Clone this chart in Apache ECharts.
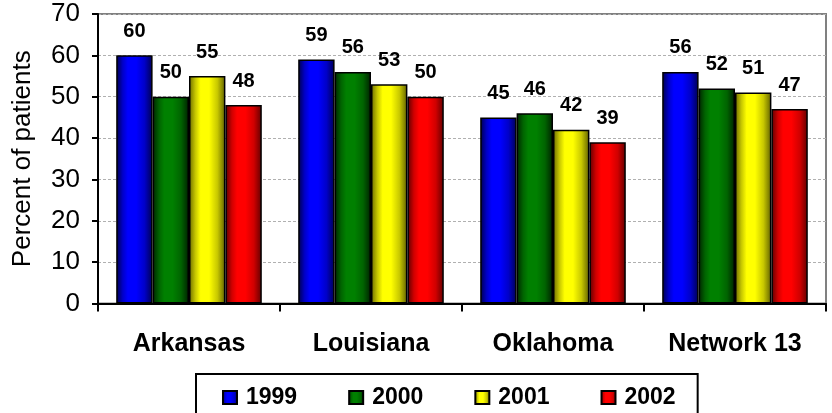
<!DOCTYPE html>
<html>
<head>
<meta charset="utf-8">
<script src="https://cdn.jsdelivr.net/npm/echarts@6/dist/echarts.min.js"></script>
<style>
  html, body { margin: 0; padding: 0; background: #fff; }
  #chart { width: 832px; height: 413px; }
</style>
</head>
<body>
<div id="chart"></div>
<script>
// Regions and yearly shares of patients
const regions = ['Arkansas', 'Louisiana', 'Oklahoma', 'Network 13'];
const years = ['1999', '2000', '2001', '2002'];
const values1999 = [60, 59, 45, 56];
const values2000 = [50, 56, 46, 52];
const values2001 = [55, 53, 42, 51];
const values2002 = [48, 50, 39, 47];
const yTicks = [0, 10, 20, 30, 40, 50, 60, 70];

const FONT = "'Liberation Sans', Arial, sans-serif";

// Cylinder-like horizontal shading: dark edges, bright centre
function shade(edgeL, mid, bright, edgeR) {
  return {
    type: 'linear', x: 0, y: 0, x2: 1, y2: 0,
    colorStops: [
      { offset: 0, color: edgeL },
      { offset: 0.18, color: mid },
      { offset: 0.32, color: bright },
      { offset: 0.55, color: bright },
      { offset: 0.78, color: mid },
      { offset: 1, color: edgeR }
    ]
  };
}

const fills = [
  shade('#00004a', '#0000c8', '#0000ff', '#000050'),
  shade('#002400', '#006400', '#008000', '#002000'),
  shade('#6a6a00', '#c8c800', '#ffff00', '#606000'),
  shade('#5a0000', '#d00000', '#ff0000', '#600000')
];

const seriesValues = [values1999, values2000, values2001, values2002];

const chart = echarts.init(document.getElementById('chart'), null, { renderer: 'canvas' });

chart.setOption({
  animation: false,
  backgroundColor: '#ffffff',
  grid: {
    left: 98, right: 6, top: 14, bottom: 109.5,
    show: true, borderColor: '#808080', borderWidth: 2,
    containLabel: false
  },
  legend: {
    data: years,
    icon: 'rect',
    left: 196, top: 374,
    orient: 'horizontal',
    borderColor: '#000', borderWidth: 2,
    padding: [12, 22, 12, 26],
    itemWidth: 14, itemHeight: 13, itemGap: 51,
    textStyle: { fontFamily: FONT, fontSize: 23, fontWeight: 'bold', color: '#000', padding: [0, 0, 0, 4] }
  },
  xAxis: {
    type: 'category',
    data: regions,
    axisLine: { lineStyle: { color: '#000', width: 2 } },
    axisTick: { show: true, alignWithLabel: false, length: 8, lineStyle: { color: '#000', width: 2 } },
    axisLabel: { fontFamily: FONT, fontSize: 25, fontWeight: 'bold', color: '#000', margin: 28 },
    splitLine: { show: false }
  },
  yAxis: {
    type: 'value',
    min: yTicks[0], max: yTicks[yTicks.length - 1], interval: 10,
    name: 'Percent of patients',
    nameLocation: 'middle',
    nameGap: 62,
    nameTextStyle: { fontFamily: FONT, fontSize: 26, color: '#000', padding: [0, 0, 0, 0] },
    axisLine: { show: true, lineStyle: { color: '#000', width: 2 } },
    axisTick: { show: true, length: 6, lineStyle: { color: '#000', width: 2 } },
    axisLabel: { fontFamily: FONT, fontSize: 26, color: '#000', margin: 18 },
    splitLine: { show: true, lineStyle: { color: '#b0b0b0', width: 1, type: [3, 2] } }
  },
  series: years.map((y, i) => ({
    name: y,
    type: 'bar',
    data: seriesValues[i],
    barGap: '0%',
    barCategoryGap: '20%',
    itemStyle: { color: fills[i], borderColor: '#000', borderWidth: 1.5 },
    label: {
      show: true, position: 'top', distance: 14,
      fontFamily: FONT, fontSize: 20, fontWeight: 'bold', color: '#000'
    }
  }))
});
</script>
</body>
</html>
